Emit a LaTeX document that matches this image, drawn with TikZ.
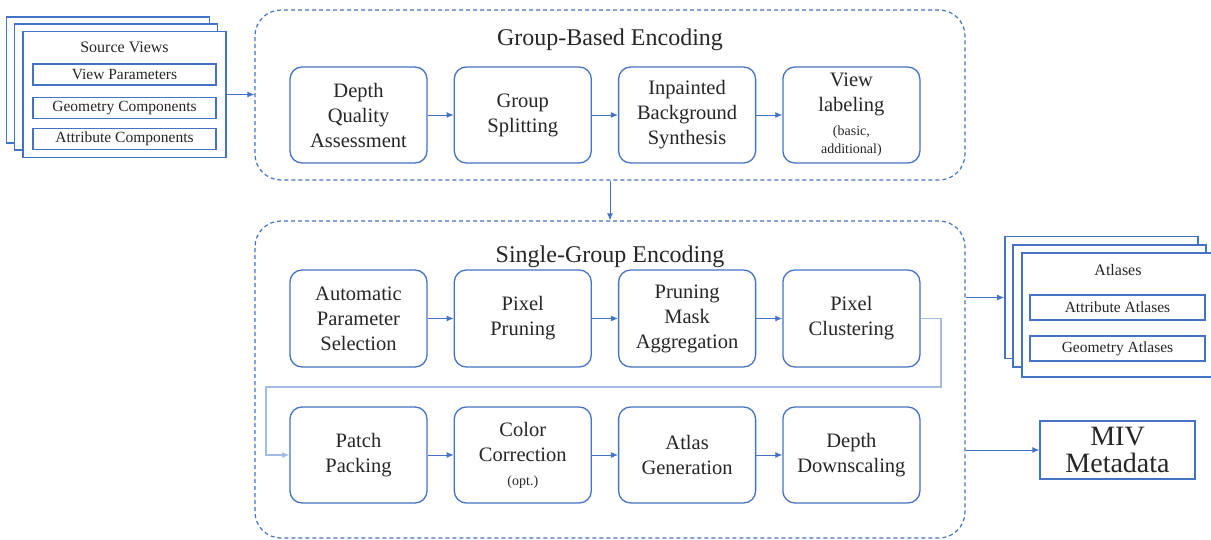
\documentclass[tikz,border=0pt]{standalone}
\usepackage{fontspec}
\setmainfont{LiberationSerif}[Extension=.ttf,UprightFont=*-Regular,BoldFont=*-Bold]
\usetikzlibrary{positioning, arrows.meta}
\definecolor{mivblue}{RGB}{68,114,196}
\definecolor{linkblue}{RGB}{160,188,228}

\begin{document}
\begin{tikzpicture}[x=1pt,y=-1pt,node distance=26pt,>={Latex[length=7pt,width=6pt]}]
            \tikzset{stage/.style={draw=mivblue,line width=1.3pt,rounded corners=12pt,minimum width=137pt,minimum height=96pt,align=center,text=black!85,font=\fontsize{20.5}{25}\selectfont}}
            \tikzset{groupbox/.style={draw=mivblue,line width=1.2pt,dash pattern=on 4pt off 3pt,rounded corners=26pt,minimum width=710pt}}
            \tikzset{title/.style={text=black!85,font=\fontsize{24}{28}\selectfont}}
            \tikzset{sheet/.style={draw=mivblue,fill=white,line width=1.8pt}}
            \tikzset{part/.style={draw=mivblue,line width=1.4pt,inner sep=0pt,text=black!85,font=\fontsize{15.5}{18}\selectfont}}
            \tikzset{flow/.style={draw=mivblue,line width=0.9pt}}
            \tikzset{link/.style={draw=linkblue,line width=1.2pt}}
            \newcommand{\smallnote}{\fontsize{14}{16}\selectfont}

            \useasboundingbox (0,0) rectangle (1211,540);

            % dashed groups
            \node[groupbox,minimum height=170pt] (gbe) at (610,95) {};
            \node[title] (gbetitle) at (610,40) {Group-Based Encoding};
            \node[groupbox,minimum height=317pt] (sge) at (610,379.5) {};
            \node[title] (sgetitle) at (610,257) {Single-Group Encoding};

            % group-based encoding
            \node[stage] (dqa) at (358.5,115) {Depth\\Quality\\Assessment};
            \node[stage] (gs) [right=26pt of dqa] {Group\\Splitting};
            \node[stage] (ibs) [right=26pt of gs] {Inpainted\\Background\\Synthesis};
            \node[stage,inner sep=1pt] (vl) [right=26pt of ibs] {View\\labeling\\[-1pt]{\smallnote(basic,}\\[-7pt]{\smallnote additional)}};

            % single-group encoding, first row
            \node[stage,minimum height=97pt] (aps) at (358.5,318.5) {Automatic\\Parameter\\Selection};
            \node[stage,minimum height=97pt] (pxp) [right=26pt of aps] {Pixel\\Pruning};
            \node[stage,minimum height=97pt] (pma) [right=26pt of pxp] {Pruning\\Mask\\Aggregation};
            \node[stage,minimum height=97pt] (pc) [right=26pt of pma] {Pixel\\Clustering};

            % single-group encoding, second row
            \node[stage] (pp) at (358.5,455) {Patch\\Packing};
            \node[stage] (cc) [right=26pt of pp] {Color\\Correction\\[-1pt]{\smallnote(opt.)}};
            \node[stage] (ag) [right=26pt of cc] {Atlas\\Generation};
            \node[stage] (dd) [right=26pt of ag] {Depth\\Downscaling};

            % source views
            \node[sheet,minimum width=203pt,minimum height=126pt] (sv3) at (108,80) {};
            \node[sheet,minimum width=203pt,minimum height=126pt] (sv2) at (116,87) {};
            \node[sheet,minimum width=203pt,minimum height=126pt] (sv) at (124.5,94.5) {};
            \node[part,draw=none,font=\fontsize{16}{18}\selectfont] (svtitle) at (124.5,47) {Source Views};
            \node[part,minimum width=183pt,minimum height=21pt] (vp) at (124.5,74.5) {View Parameters};
            \node[part,minimum width=183pt,minimum height=21pt] (gc) at (124.5,108) {Geometry Components};
            \node[part,minimum width=183pt,minimum height=21pt] (ac) at (124.5,139) {Attribute Components};

            % atlases
            \node[sheet,minimum width=193pt,minimum height=122pt] (at3) at (1101.5,297.5) {};
            \node[sheet,minimum width=193pt,minimum height=122pt] (at2) at (1109.5,306) {};
            \node[sheet,minimum width=193pt,minimum height=124pt] (at) at (1118.5,315) {};
            \node[part,draw=none,font=\fontsize{16}{18}\selectfont] (attitle) at (1118,270) {Atlases};
            \node[part,minimum width=175pt,minimum height=25pt] (aa) at (1117.5,307.5) {Attribute Atlases};
            \node[part,minimum width=175pt,minimum height=25pt] (gat) at (1117.5,348.5) {Geometry Atlases};

            % metadata
            \node[part,minimum width=155pt,minimum height=58pt,align=center,font=\fontsize{28}{27}\selectfont] (miv) at (1117.5,450) {MIV\\Metadata};

            % connectors
            \draw[flow,->] (sv.east) -- (gbe.west |- sv.east);
            \draw[flow,->] (dqa) -- (gs);
            \draw[flow,->] (gs) -- (ibs);
            \draw[flow,->] (ibs) -- (vl);
            \draw[flow,->] (gbe.south) -- (sge.north);

            \draw[flow,->] (aps) -- (pxp);
            \draw[flow,->] (pxp) -- (pma);
            \draw[flow,->] (pma) -- (pc);

            \coordinate (turnr) at (941,387);
            \coordinate (turnl) at (266,387);
            \draw[link,->] (pc.east) -| (turnr) -- (turnl) |- (pp.west);

            \draw[flow,->] (pp) -- (cc);
            \draw[flow,->] (cc) -- (ag);
            \draw[flow,->] (ag) -- (dd);

            \draw[flow,->] (sge.east |- at3.west) -- (at3.west);
            \draw[flow,->] (sge.east |- miv.west) -- (miv.west);

\end{tikzpicture}
\end{document}
